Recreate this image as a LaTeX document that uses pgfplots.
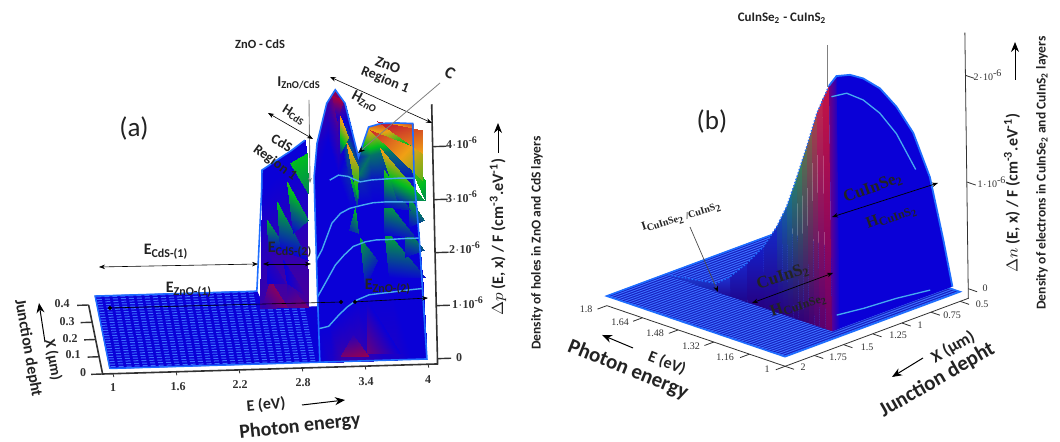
\documentclass[border=0pt]{standalone}
\usepackage{pgfplots}
\pgfplotsset{compat=1.18}
\usepackage{fontspec}
\setmainfont{Carlito}
\newfontfamily\ser{Liberation Serif}
\usetikzlibrary{arrows.meta}
\definecolor{txt}{RGB}{35,35,35}
\definecolor{rim}{RGB}{30,110,255}
\definecolor{cur}{RGB}{70,170,240}
\definecolor{flo}{RGB}{60,110,255}
\definecolor{axc}{RGB}{50,50,50}
\definecolor{flb}{RGB}{20,30,190}
\definecolor{wal}{RGB}{10,0,215}
\pgfplotsset{colormap={ab}{rgb255=(170,0,60) rgb255=(10,0,215) rgb255=(0,190,30) rgb255=(240,160,20) rgb255=(190,10,50)}}
\newcommand{\fs}[1]{\fontsize{\the\dimexpr #1pt/2\relax}{\the\dimexpr #1pt/2\relax}\selectfont}
\newcommand{\tx}[5]{\node[rotate=#3,inner sep=0pt,text=txt] at ({#1},{442-#2}) {\fs{#4}\bfseries #5};}
\newcommand{\tl}[3]{\node[inner sep=0pt,text=axc] at ({#1},{442-#2}) {\ser\fs{10}#3};}
\newcommand{\tla}[3]{\node[inner sep=0pt,text=axc] at ({#1},{442-#2}) {\ser\fs{12}\bfseries #3};}
\newcommand{\ar}[5]{\draw[#5] ({#1},{442-#2}) -- ({#3},{442-#4});}
\newcommand{\band}[6]{\addplot3[draw=none,top color={rgb,255:red,#5},bottom color={rgb,255:red,#6}] coordinates {(0.5,#1,0)(0.5,#3,0)(0.5,#3,#4)(0.5,#1,#2)(0.5,#1,0)};}
\tikzset{lw/.style={line width=#1*0.5pt},
 two/.style={black,lw=#1,{Stealth[length=3pt]}-{Stealth[length=3pt]}},
 big/.style={black,lw=1,-{Stealth[length=5pt,width=4pt]}}}
\begin{document}
\begin{tikzpicture}[x=0.5pt,y=0.5pt]
\useasboundingbox (0,0) rectangle (1060,442);
\fill[white] (0,0) rectangle (1060,442);
% ---------- panel (a)
\begin{axis}[at={(4pt,35.225pt)},anchor=origin,disabledatascaling,clip=false,
  x={(52.5pt,1.575pt)},y={(-17.5pt,86.25pt)},z={(-0.6pt,26.5pt)},
  xmin=0,xmax=4.3,ymin=0,ymax=0.45,zmin=-0.2,zmax=5,
  axis lines=none,xtick=\empty,ytick=\empty,ztick=\empty,
  colormap name=ab,point meta min=0,point meta max=4,
]
% axis lines and tick marks
\addplot3[axc,lw=1.6] coordinates {(0.9,0.4,-0.1)(0.9,0,-0.1)(4.09,0,-0.1)(4.09,0,4.8)};
\pgfplotsinvokeforeach{0,0.1,0.2,0.3,0.4}{\addplot3[axc,lw=1.4] coordinates {(0.9,#1,-0.1)(0.79,#1,-0.1)};}
\pgfplotsinvokeforeach{0,1,2,3,4}{\addplot3[axc,lw=1.4] coordinates {(4.09,0,#1)(4.22,0,#1)};}
\pgfplotsinvokeforeach{1,1.6,2.2,2.8,3.4,4}{\addplot3[axc,lw=0.8] coordinates {(#1,0,-0.1)(#1,-0.02,-0.1)};}
% floor
\addplot3[surf,shader=flat,point meta=\thisrow{m}] table {
x y z m
0.97 0 0 1
2.97 0 0 1

0.97 0.32 0 1
3.05 0.32 0 1
};
\addplot3[surf,shader=flat,point meta=\thisrow{m}] table {
x y z m
0.97 0.32 0 1
2.55 0.32 0 1

0.97 0.42 0 1
2.51 0.42 0 1
};
\pgfplotsinvokeforeach{0.01,0.025,...,0.31}{\addplot3[flo,lw=1,dash pattern=on 2.5pt off 1.5pt] coordinates {(0.98,#1,0)(2.96,#1,0)};}
\pgfplotsinvokeforeach{0.325,0.34,...,0.415}{\addplot3[flo,lw=1,dash pattern=on 2.5pt off 1.5pt] coordinates {(0.98,#1,0)(2.5,#1,0)};}
\addplot3[rim,lw=1.5] coordinates {(0.97,0,0)(2.97,0,0)};
\addplot3[rim,lw=1.5] coordinates {(0.97,0,0)(0.97,0.42,0)(2.51,0.42,0)};
% CdS block
\addplot3[surf,shader=interp,point meta=\thisrow{m}] table {
x y z m
2.51 0.32 0 0.7
2.66 0.32 0 0.6
2.82 0.32 0 0.6
2.967 0.32 0 0.6

2.566 0.38 2.04 1
2.71 0.38 2.28 1
2.85 0.38 2.50 1
3.0 0.38 2.73 1

2.585 0.42 2.28 1
2.72 0.42 2.45 1
2.86 0.42 2.62 1
3.0 0.42 2.82 1
};
\addplot3[rim,lw=1.6] coordinates {(2.51,0.42,0)(2.566,0.38,2.04)(2.585,0.42,2.28)(2.72,0.42,2.45)(2.86,0.42,2.62)(3.0,0.42,2.82)};
% ZnO block
\addplot3[surf,shader=interp,point meta=\thisrow{m}] table {
x y z m
2.97 0 0 1
3.085 0 0 0.9
3.186 0 0 0.7
3.27 0 0 0.7
3.36 0 0 0.7
3.476 0 0 0.8
3.58 0 0 0.9
3.7 0 0 0.9
3.85 0 0 1
3.99 0 0 1

2.99 0.08 0.37 1
3.085 0.08 0.41 1
3.186 0.08 0.62 1
3.27 0.08 0.77 1
3.36 0.08 0.89 1
3.476 0.08 0.98 1
3.58 0.08 1.0 1
3.7 0.08 1.02 1
3.85 0.08 1.05 1
3.99 0.08 1.07 1

3.01 0.16 0.71 1
3.085 0.16 0.96 1
3.186 0.16 1.30 1
3.27 0.16 1.48 1
3.36 0.16 1.64 1
3.476 0.16 1.72 1
3.58 0.16 1.75 1
3.7 0.16 1.75 1
3.85 0.16 1.76 1
3.99 0.16 1.76 1

3.03 0.24 1.14 1
3.085 0.24 1.33 1
3.186 0.24 1.83 1
3.27 0.24 2.01 1
3.36 0.24 2.10 1
3.476 0.24 2.15 1
3.58 0.24 2.19 1
3.7 0.24 2.20 1
3.85 0.24 2.19 1
3.99 0.24 2.18 1

3.04 0.28 1.71 1
3.085 0.28 2.01 1
3.186 0.28 2.51 1
3.27 0.28 2.60 1
3.36 0.28 2.57 1.2
3.476 0.28 2.46 1.2
3.58 0.28 2.49 1.1
3.7 0.28 2.50 1.1
3.85 0.28 2.51 1.1
3.99 0.28 2.50 1.1

3.045 0.30 2.10 1
3.085 0.30 2.55 1
3.186 0.30 3.20 1
3.27 0.30 3.35 0.7
3.36 0.30 3.20 1.5
3.476 0.30 2.55 1.6
3.58 0.30 2.90 1.6
3.7 0.30 2.95 1.6
3.85 0.30 2.95 1.6
3.99 0.30 2.95 1.6

3.05 0.32 2.45 1
3.085 0.32 3.08 0.9
3.186 0.32 3.83 0.7
3.27 0.32 4.08 0.1
3.36 0.32 3.82 0.6
3.476 0.32 2.80 1.2
3.58 0.32 3.36 3.2
3.7 0.32 3.42 3.6
3.85 0.32 3.42 3.2
4.0 0.32 3.40 3.6
};
% stripes (read as positions on the picture, 3x zoom coordinates)
\addplot3[patch,shader=interp,point meta=\thisrow{m}] table[
  x expr={1+(\thisrow{zx}/3-113+0.0226*(348.4-\thisrow{zy}/3))/105},
  y expr=0,
  z expr={(348.4-0.03*(\thisrow{zx}/3-113)-\thisrow{zy}/3)/53}] {
zx zy m
1130 305 4
1265 330 3.5
1265 400 3
1110 330 3.8
1265 480 2.4
1265 390 2.8
1140 385 3.1
1272 540 1.8
1190 540 1.2
1210 400 2.8
1275 480 2
1275 540 1.7
1150 450 2.2
1230 570 1.2
1150 560 1
1038 362 3.2
1075 440 2.6
1072 530 1.8
1050 470 2.1
1075 510 1.8
1072 560 1.2
1065 565 2
1075 640 1.4
1048 630 1.2
995 225 0
1028 240 0
1010 300 1
1020 290 3.2
1045 350 2.7
1020 400 1.2
1150 535 2
1245 650 1.2
1150 645 1
1225 530 1.9
1272 600 1.5
1225 620 1
1150 625 2
1275 770 1.1
1165 770 1
1215 620 1.9
1272 690 1.4
1215 710 1
1080 655 1.9
1130 720 1.2
1095 800 1
1100 840 1
1200 1000 1
1100 1000 0.4
1060 945 0.8
1105 1010 0.1
1020 1010 0.3
860 485 2.2
925 600 1.6
880 640 1
830 545 2
925 720 1
840 690 1
800 600 1.9
860 690 1.1
805 690 1
870 430 2
920 400 2
925 520 1.7
810 780 0.2
860 860 0.3
785 860 0.8
800 700 0.8
855 790 0.8
800 790 1
860 790 0.8
925 860 0.3
860 860 0.5
850 720 1
920 830 0.6
860 790 1
};
% iso-X curves
\addplot3[cur,lw=1.4] coordinates {(2.99,0.08,0.37)(3.085,0.08,0.41)(3.186,0.08,0.62)(3.27,0.08,0.77)(3.36,0.08,0.89)(3.476,0.08,0.98)(3.58,0.08,1.0)(3.7,0.08,1.02)(3.85,0.08,1.05)(3.99,0.08,1.07)};
\addplot3[cur,lw=1.4] coordinates {(3.01,0.16,0.71)(3.085,0.16,0.96)(3.186,0.16,1.30)(3.27,0.16,1.48)(3.36,0.16,1.64)(3.476,0.16,1.72)(3.58,0.16,1.75)(3.7,0.16,1.75)(3.85,0.16,1.76)(3.99,0.16,1.76)};
\addplot3[cur,lw=1.4] coordinates {(3.03,0.24,1.14)(3.085,0.24,1.33)(3.186,0.24,1.83)(3.27,0.24,2.01)(3.36,0.24,2.10)(3.476,0.24,2.15)(3.58,0.24,2.19)(3.7,0.24,2.20)(3.85,0.24,2.19)(3.99,0.24,2.18)};
\addplot3[cur,lw=1.4] coordinates {(3.186,0.28,2.51)(3.27,0.28,2.60)(3.36,0.28,2.57)(3.476,0.28,2.46)(3.58,0.28,2.49)(3.7,0.28,2.50)(3.85,0.28,2.51)(3.99,0.28,2.50)};
\addplot3[rim,lw=1.6] coordinates {(2.97,0,0)(3.01,0.16,0.71)(3.04,0.28,1.71)(3.05,0.32,2.45)(3.085,0.32,3.08)(3.186,0.32,3.83)(3.27,0.32,4.08)(3.36,0.32,3.82)(3.476,0.32,2.80)(3.58,0.32,3.36)(3.7,0.32,3.42)(3.85,0.32,3.42)(4.0,0.32,3.40)(3.99,0.28,2.50)(3.99,0.16,1.76)(3.99,0,0)(2.97,0,0)};
\end{axis}
% tick labels of (a)
\tla{113}{388}{1}\tla{178}{387}{1.6}\tla{240}{385}{2.2}\tla{303}{383}{2.8}\tla{366}{382}{3.4}\tla{428}{380}{4}
\tla{62}{304}{0.4}\tla{67}{322}{0.3}\tla{70}{339}{0.2}\tla{73}{355}{0.1}\tla{83}{373}{0}
\tla{462}{143}{4$\cdot$10\textsuperscript{-6}}\tla{462}{197}{3$\cdot$10\textsuperscript{-6}}\tla{465}{248}{2$\cdot$10\textsuperscript{-6}}\tla{468}{303}{1$\cdot$10\textsuperscript{-6}}\tla{459}{358}{0}
% ---------- panel (b): x axis = 2 - X (um), y axis = E - 1 (eV)
\begin{axis}[at={(392.5pt,42.65pt)},anchor=origin,disabledatascaling,clip=false,
  x={(58.35pt,21.65pt)},y={(-111.45pt,37.9pt)},z={(-0.7pt,53.35pt)},
  xmin=-0.1,xmax=1.6,ymin=-0.1,ymax=0.9,zmin=-0.2,zmax=2.5,
  axis lines=none,xtick=\empty,ytick=\empty,ztick=\empty,
]
% axis lines and tick marks
\addplot3[axc,lw=0.8] coordinates {(0,0.8,-0.09)(0,0,-0.09)(1.57,0,-0.09)(1.57,0,2.4)};
\pgfplotsinvokeforeach{0,0.16,0.32,0.48,0.64,0.8}{\addplot3[axc,lw=0.8] coordinates {(0,#1,-0.09)(-0.08,#1,-0.09)};}
\pgfplotsinvokeforeach{0,0.25,0.5,0.75,1,1.25,1.5}{\addplot3[axc,lw=0.8] coordinates {(#1,0,-0.09)(#1,-0.04,-0.09)};}
\pgfplotsinvokeforeach{0,1,2}{\addplot3[axc,lw=0.8] coordinates {(1.57,0,#1)(1.57,-0.04,#1)};}
% floor
\addplot3[draw=none,fill=flb] coordinates {(0,0,0)(1.5,0,0)(1.5,0.8,0)(0,0.8,0)(0,0,0)};
\pgfplotsinvokeforeach{0.005,0.02,...,0.8}{\addplot3[flo,lw=1] coordinates {(0,#1,0)(1.5,#1,0)};}
\addplot3[rim,lw=1.6] coordinates {(0,0,0)(0,0.8,0)(1.5,0.8,0)(1.5,0,0)(0,0,0)};
% face in the plane of the interface, band by band (E-1; top value; colours)
\band{0.05}{2.30}{0.08}{2.15}{195;green,20;blue,70}{110;green,0;blue,105}
\band{0.08}{2.15}{0.107}{2.0}{190;green,40;blue,80}{90;green,0;blue,110}
\band{0.107}{2.0}{0.13}{1.83}{160;green,70;blue,75}{75;green,0;blue,115}
\band{0.13}{1.83}{0.154}{1.656}{125;green,95;blue,75}{65;green,0;blue,115}
\band{0.154}{1.656}{0.177}{1.5}{90;green,115;blue,80}{55;green,0;blue,118}
\band{0.177}{1.5}{0.2}{1.34}{60;green,130;blue,90}{50;green,0;blue,120}
\band{0.2}{1.34}{0.224}{1.18}{40;green,125;blue,110}{45;green,0;blue,122}
\band{0.224}{1.18}{0.2475}{1.03}{25;green,115;blue,140}{42;green,0;blue,125}
\band{0.2475}{1.03}{0.27}{0.92}{20;green,90;blue,165}{40;green,0;blue,128}
\band{0.27}{0.92}{0.294}{0.806}{20;green,70;blue,180}{38;green,0;blue,128}
\band{0.294}{0.806}{0.355}{0.576}{20;green,40;blue,200}{38;green,0;blue,128}
\band{0.355}{0.576}{0.431}{0.365}{20;green,30;blue,200}{38;green,0;blue,128}
\band{0.431}{0.365}{0.507}{0.187}{25;green,35;blue,200}{30;green,5;blue,140}
\band{0.507}{0.187}{0.569}{0.08}{30;green,50;blue,210}{30;green,10;blue,150}
\band{0.569}{0.08}{0.8}{0}{30;green,60;blue,215}{25;green,30;blue,170}
\addplot3[rim,lw=1.4,densely dotted] coordinates {(0.5,0.05,2.30)(0.5,0.107,2.0)(0.5,0.154,1.656)(0.5,0.2,1.34)(0.5,0.2475,1.03)(0.5,0.294,0.806)(0.5,0.355,0.576)(0.5,0.431,0.365)(0.5,0.507,0.187)(0.5,0.569,0.08)(0.5,0.8,0)};
% right wall
\addplot3[draw=none,fill=wal] coordinates {(0.5,0.05,0)(0.5,0.05,2.30)(0.565,0.05,2.365)(0.68,0.05,2.33)(0.793,0.05,2.25)(0.934,0.05,2.10)(1.074,0.05,1.87)(1.213,0.05,1.57)(1.35,0.05,1.10)(1.458,0.05,0.466)(1.53,0.05,0)(0.5,0.05,0)};
\addplot3[draw=none,left color={rgb,255:red,110;green,0;blue,130},right color=wal] coordinates {(0.5,0.05,0)(0.5,0.05,2.30)(0.565,0.05,2.365)(0.565,0.05,0)(0.5,0.05,0)};
\addplot3[cur,lw=1.3] coordinates {(0.52,0.05,2.19)(0.65,0.05,2.17)(0.79,0.05,2.05)(0.93,0.05,1.87)(1.07,0.05,1.62)(1.23,0.05,1.22)};
\addplot3[cur,lw=1.3] coordinates {(0.54,0.05,0.135)(0.77,0.05,0.105)(1.05,0.05,0.085)(1.34,0.05,0.045)};
\addplot3[rim,lw=1.8] coordinates {(0.5,0.05,2.30)(0.565,0.05,2.365)(0.68,0.05,2.33)(0.793,0.05,2.25)(0.934,0.05,2.10)(1.074,0.05,1.87)(1.213,0.05,1.57)(1.35,0.05,1.10)(1.458,0.05,0.466)(1.53,0.05,0)};
\end{axis}
% tick labels of (b)
\tl{586}{309}{1.8}\tl{620}{322}{1.64}\tl{655}{333}{1.48}\tl{691}{346}{1.32}\tl{725}{357}{1.16}\tl{767}{369}{1}
\tl{803}{367}{2}\tl{838}{357}{1.75}\tl{867}{347}{1.5}\tl{898}{335}{1.25}\tl{920}{325}{1}\tl{952}{315}{0.75}\tl{982}{304}{0.5}
\tl{985}{288}{0}\tl{992}{182}{1$\cdot$10\textsuperscript{-6}}\tl{988}{75}{2$\cdot$10\textsuperscript{-6}}
% ---------- texts and arrows panel (a)
\tx{260}{44}{0}{12.5}{ZnO - CdS}
\node[inner sep=0pt,text=txt] at (134,{442-129}) {\fs{27}(a)};
\tx{299}{83}{0}{15}{I\textsubscript{ZnO/CdS}}
\tx{294}{115}{-32}{14}{H\textsubscript{CdS}}
\tx{282}{143}{-30}{14}{CdS}
\tx{275}{163}{-36}{14}{Region 1}
\tx{365}{102}{-28}{15}{H\textsubscript{ZnO}}
\tx{388}{65}{-20}{15}{ZnO}
\tx{385}{80}{-22}{14}{Region 1}
\tx{450}{73}{-30}{17}{C}
\tx{166}{252}{0}{16}{E\textsubscript{CdS-(1)}}
\tx{290}{250}{0}{16}{E\textsubscript{CdS-(2)}}
\tx{189}{290}{0}{16}{E\textsubscript{ZnO-(1)}}
\tx{388}{287}{0}{16}{E\textsubscript{ZnO-(2)}}
\tx{266}{405}{5}{16}{E (eV)}
\tx{300}{427}{6}{20}{Photon energy}
\tx{53}{360}{-80}{15}{X (µm)}
\tx{28}{348}{-80}{16}{Junction depht}
\tx{498}{237}{90}{16}{$\Delta p$ (E, x) / F (cm\textsuperscript{-3}.eV\textsuperscript{-1})}
\tx{537}{243}{90}{13.5}{Density of holes in ZnO and CdS layers}
\ar{309}{100}{310}{183}{gray,lw=0.9,-{Stealth[length=2.5pt]}}
\ar{268}{113}{313}{139}{two=0.6}
\ar{330}{77}{432}{123}{two=0.6}
\ar{440}{83}{358}{153}{gray,lw=0.8,-{Stealth[length=3.5pt,black]}}
\ar{99}{267}{258}{264}{two=0.6}
\ar{263}{264}{311}{264}{two=0.6}
\ar{108}{308}{343}{302}{black,lw=0.6,{Circle[length=2pt]}-{Circle[length=2pt]}}
\ar{353}{302}{428}{298}{black,lw=0.6,{Circle[length=2pt]}-{Stealth[length=3pt]}}
\ar{302}{405}{345}{400}{big}
\ar{45}{342}{39}{303}{big}
\ar{498}{153}{498}{123}{big}
% ---------- texts and arrows panel (b)
\tx{782}{18}{0}{13}{CuInSe\textsubscript{2} - CuInS\textsubscript{2}}
\node[inner sep=0pt,text=txt] at (712,{442-122}) {\fs{27}(b)};
\tx{682}{217}{18}{12}{\ser I\textsubscript{CuInSe\textsubscript{2} /CuInS\textsubscript{2}}}
\tx{873}{188}{20}{17}{\ser CuInSe\textsubscript{2}}
\tx{892}{217}{20}{16}{\ser H\textsubscript{CuInS\textsubscript{2}}}
\tx{783}{277}{18}{17}{\ser CuInS\textsubscript{2}}
\tx{799}{305}{18}{16}{\ser H\textsubscript{CuInSe\textsubscript{2}}}
\tx{667}{363}{-22}{16}{E (eV)}
\tx{628}{370}{-22}{21}{Photon energy}
\tx{953}{347}{30}{17}{X (µm)}
\tx{937}{380}{30}{21}{Junction depht}
\tx{1012}{193}{90}{16}{$\Delta n$ (E, x) / F (cm\textsuperscript{-3}.eV\textsuperscript{-1})}
\tx{1042}{173}{90}{13.5}{Density of electrons in CuInSe\textsubscript{2} and CuInS\textsubscript{2} layers}
\ar{827}{45}{827}{87}{gray,lw=0.8}
\ar{690}{227}{718}{292}{gray!60!black,lw=0.7,-{Stealth[length=3pt,black]}}
\ar{832}{217}{938}{183}{two=0.7}
\ar{752}{303}{833}{273}{two=0.7}
\ar{633}{348}{602}{335}{big}
\ar{923}{358}{892}{377}{big}
\ar{1015}{80}{1015}{42}{big}
\end{tikzpicture}
\end{document}
